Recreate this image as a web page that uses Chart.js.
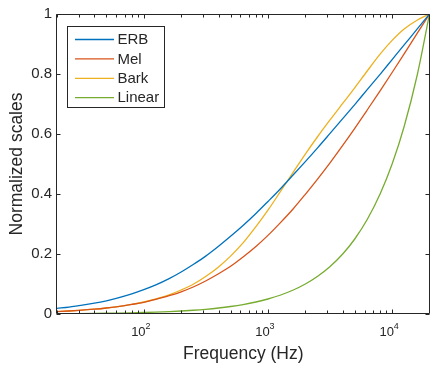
<!DOCTYPE html>
<html>
<head>
<meta charset="utf-8">
<script src="https://cdn.jsdelivr.net/npm/chart.js@4"></script>
<style>
  html, body { margin: 0; padding: 0; background: #ffffff; }
  #wrap { width: 430px; height: 369px; position: relative; }
</style>
</head>
<body>
<div id="wrap"><canvas id="c"></canvas></div>
<script>
// ---- data ----
const freqHz = [20, 25, 30, 40, 50, 60, 80, 100, 125, 160, 200, 250, 315, 400, 500, 630, 800,
  1000, 1250, 1600, 2000, 2500, 3150, 4000, 5000, 6300, 8000, 10000, 12500, 16000, 20000];
const erbValues = [0.019, 0.023, 0.028, 0.036, 0.044, 0.052, 0.067, 0.081, 0.097, 0.118, 0.140,
  0.165, 0.193, 0.226, 0.259, 0.295, 0.335, 0.375, 0.416, 0.464, 0.508, 0.553, 0.601, 0.651,
  0.698, 0.748, 0.799, 0.848, 0.897, 0.951, 1.000];
const melValues = [0.008, 0.010, 0.012, 0.016, 0.020, 0.024, 0.032, 0.039, 0.049, 0.061, 0.074,
  0.090, 0.110, 0.134, 0.159, 0.190, 0.225, 0.262, 0.303, 0.351, 0.399, 0.449, 0.503, 0.562,
  0.619, 0.680, 0.744, 0.805, 0.867, 0.937, 1.000];
const barkValues = [0.008, 0.010, 0.012, 0.016, 0.020, 0.024, 0.032, 0.040, 0.050, 0.064, 0.080,
  0.099, 0.125, 0.157, 0.193, 0.237, 0.291, 0.346, 0.406, 0.473, 0.533, 0.590, 0.646, 0.702,
  0.754, 0.810, 0.866, 0.912, 0.950, 0.980, 1.000];
const linearValues = [0.001, 0.00125, 0.0015, 0.002, 0.0025, 0.003, 0.004, 0.005, 0.00625, 0.008,
  0.010, 0.0125, 0.01575, 0.020, 0.025, 0.0315, 0.040, 0.050, 0.0625, 0.080, 0.100, 0.125,
  0.1575, 0.200, 0.250, 0.315, 0.400, 0.500, 0.625, 0.800, 1.000];
const seriesNames = ['ERB', 'Mel', 'Bark', 'Linear'];
const xTickValues = [100, 1000, 10000];
const xTickExponents = ['2', '3', '4'];
const yTickValues = [0, 0.2, 0.4, 0.6, 0.8, 1];

// ---- styles ----
const colors = ['#0072BD', '#D95319', '#EDB120', '#77AC30'];
const axisColor = '#262626';
const fontFamily = '"Liberation Sans", Arial, Helvetica, sans-serif';

const allValues = [erbValues, melValues, barkValues, linearValues];
const datasets = seriesNames.map((name, i) => ({
  label: name,
  data: freqHz.map((f, k) => ({ x: f, y: allValues[i][k] })),
  borderColor: colors[i],
  backgroundColor: colors[i],
  borderWidth: 1.3,
  pointRadius: 0,
  fill: false,
  cubicInterpolationMode: 'monotone'
}));

const matlabAxes = {
  id: 'matlabAxes',
  afterDatasetsDraw(chart) {
    const ctx = chart.ctx;
    const a = chart.chartArea;
    const xs = chart.scales.x, ys = chart.scales.y;
    const L = Math.round(a.left) - 0.5, R = Math.round(a.right) - 0.5;
    const T = Math.round(a.top) + 0.5, B = Math.round(a.bottom) - 0.5;
    ctx.save();
    ctx.strokeStyle = axisColor;
    ctx.lineWidth = 1;
    ctx.beginPath();
    ctx.rect(L, T, R - L, B - T);
    ctx.stroke();
    // x ticks (major + minor), log axis
    ctx.beginPath();
    for (let dec = 10; dec <= 10000; dec *= 10) {
      for (let m = 1; m <= 9; m++) {
        const v = dec * m;
        if (v < xs.min || v > xs.max) continue;
        const major = xTickValues.includes(v);
        const len = major ? 4 : 3;
        const px = Math.round(xs.getPixelForValue(v)) + 0.5;
        ctx.moveTo(px, B); ctx.lineTo(px, B - len);
        ctx.moveTo(px, T); ctx.lineTo(px, T + len);
      }
    }
    // y ticks
    yTickValues.forEach(v => {
      const py = Math.round(ys.getPixelForValue(v)) + 0.5;
      ctx.moveTo(L, py); ctx.lineTo(L + 4, py);
      ctx.moveTo(R, py); ctx.lineTo(R - 4, py);
    });
    ctx.stroke();

    // x tick labels: 10^n
    ctx.fillStyle = axisColor;
    ctx.textBaseline = 'alphabetic';
    xs.ticks.forEach((t, i) => {
      const px = xs.getPixelForValue(t.value);
      ctx.font = '13px ' + fontFamily;
      ctx.textAlign = 'right';
      ctx.fillText('10', px + 1.8, 335.5);
      ctx.font = '9px ' + fontFamily;
      ctx.textAlign = 'left';
      ctx.fillText(xTickExponents[i], px + 1.6, 328.5);
    });

    // legend
    const lx = a.left + 10.5, ly = a.top + 12.5, lw = 97, lh = 81;
    ctx.fillStyle = '#ffffff';
    ctx.fillRect(lx, ly, lw, lh);
    ctx.strokeStyle = axisColor;
    ctx.lineWidth = 1;
    ctx.strokeRect(lx, ly, lw, lh);
    ctx.font = '15px ' + fontFamily;
    ctx.textAlign = 'left';
    ctx.textBaseline = 'middle';
    chart.data.datasets.forEach((ds, i) => {
      const yy = ly + 13 + i * 19.4;
      ctx.strokeStyle = ds.borderColor;
      ctx.lineWidth = 1.3;
      ctx.beginPath();
      ctx.moveTo(lx + 7.5, yy);
      ctx.lineTo(lx + 46.5, yy);
      ctx.stroke();
      ctx.fillStyle = axisColor;
      ctx.fillText(ds.label, lx + 50, yy + 0.5);
    });
    ctx.restore();
  }
};

new Chart(document.getElementById('c'), {
  type: 'line',
  data: { datasets },
  plugins: [matlabAxes],
  options: {
    responsive: true,
    maintainAspectRatio: false,
    animation: false,
    layout: { padding: { top: 11, right: 0.5, left: 0, bottom: 0 } },
    plugins: { legend: { display: false }, tooltip: { enabled: false } },
    scales: {
      x: {
        type: 'logarithmic',
        min: 20,
        max: 20000,
        afterBuildTicks(scale) { scale.ticks = xTickValues.map(v => ({ value: v })); },
        afterFit(scale) { scale.height = 55; },
        grid: { display: false, drawTicks: false },
        border: { display: false },
        ticks: { display: false },
        title: {
          display: true,
          text: 'Frequency (Hz)',
          color: axisColor,
          font: { family: fontFamily, size: 17.5 },
          padding: { top: 0, bottom: 4 }
        }
      },
      y: {
        type: 'linear',
        min: 0,
        max: 1,
        afterBuildTicks(scale) { scale.ticks = yTickValues.map(v => ({ value: v })); },
        afterFit(scale) { scale.width = 57; },
        grid: { display: false, drawTicks: false },
        border: { display: false },
        ticks: {
          color: axisColor,
          font: { family: fontFamily, size: 15 },
          padding: 5,
          callback: v => String(v)
        },
        title: {
          display: true,
          text: 'Normalized scales',
          color: axisColor,
          font: { family: fontFamily, size: 17.5 },
          padding: { top: 7, bottom: 0 }
        }
      }
    }
  }
});
</script>
</body>
</html>
